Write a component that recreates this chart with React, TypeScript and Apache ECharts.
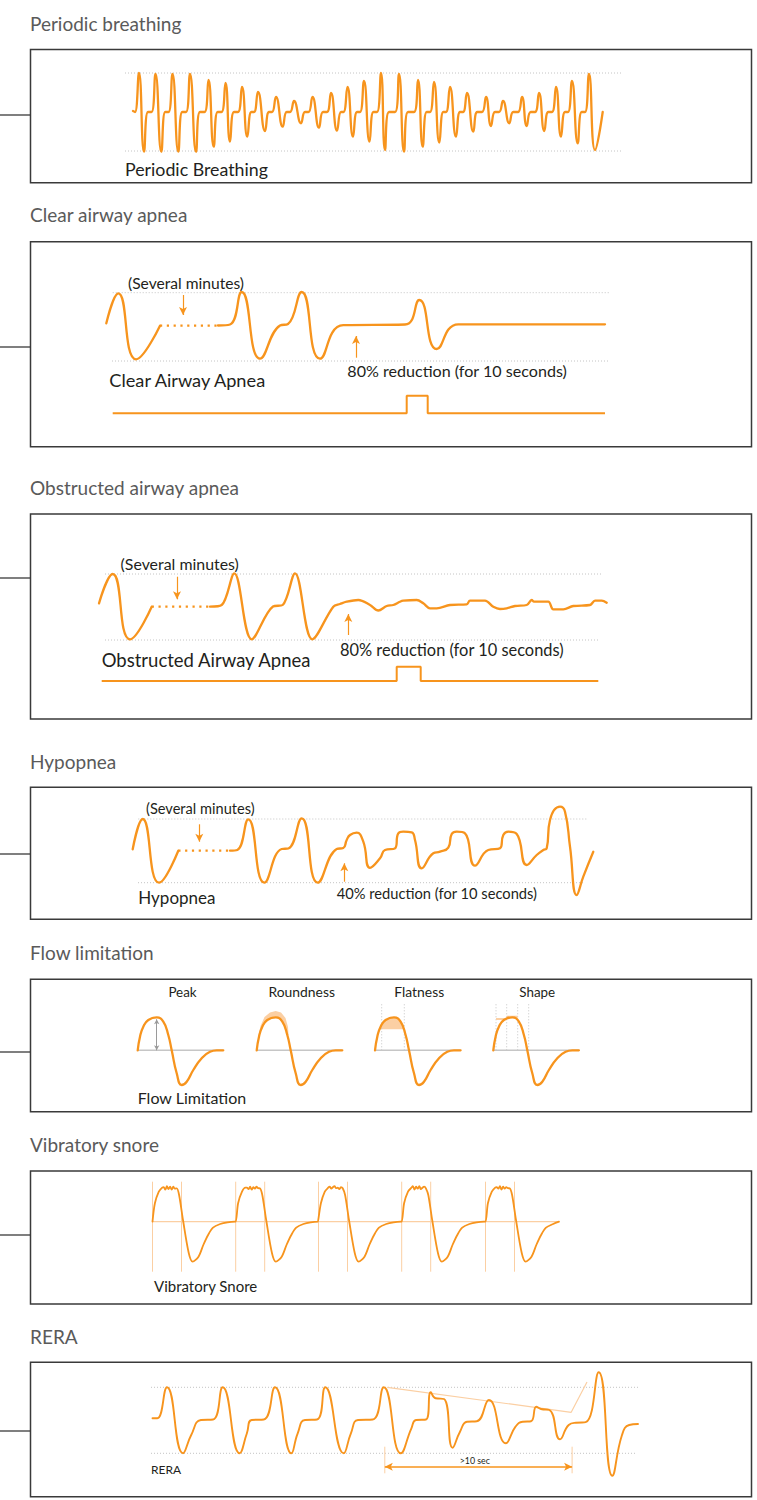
import React, { useEffect, useRef } from "react";
import * as echarts from "echarts";

const ORANGE = "#f7941d";
const LIGHT = "#fbcfa3";
const DOT = "#c4c4c4";
const BORDER = "#3a3a3a";
const TITLE = "#5a5a5a";
const INK = "#231f20";
const FONT = "Lato, 'Open Sans', 'DejaVu Sans', sans-serif";

// ================= DATA (t = time units, f = flow units) =================
// Panel 1: periodic breathing, one entry per breath
const pbStart = [10.3, 0.1];
const pbOnsetT = [10.5, 12.15, 13.85, 15.6, 17.45, 19.15, 20.8, 22.4, 24.2, 26.0, 27.85, 29.7, 31.35, 33.0, 34.7, 36.5, 38.4, 40.0, 41.6, 43.3, 45.2, 46.9, 48.8, 50.5, 52.2, 53.8, 55.5];
const pbPeakT = [10.9, 12.55, 14.25, 16.0, 17.85, 19.55, 21.2, 22.8, 24.6, 26.4, 28.25, 30.1, 31.75, 33.4, 35.1, 36.9, 38.8, 40.4, 42.0, 43.7, 45.6, 47.3, 49.2, 50.9, 52.6, 54.2, 55.9];
const pbPeakF = [3.9, 3.8, 3.8, 3.8, 3.2, 2.9, 2.5, 2.0, 1.5, 1.1, 1.5, 1.9, 2.5, 3.1, 3.9, 3.8, 3.2, 3.0, 2.5, 1.9, 1.5, 1.1, 1.5, 1.9, 2.5, 3.1, 3.8];
const pbTroughT = [11.4, 13.13, 14.83, 16.6, 18.37, 20.0, 21.73, 23.5, 25.27, 27.1, 28.9, 30.7, 32.3, 33.95, 35.5, 37.4, 39.27, 40.93, 42.6, 44.33, 46.1, 47.93, 49.67, 51.43, 53.1, 54.77, 56.5];
const pbTroughF = [-3.97, -3.97, -3.97, -3.97, -3.47, -2.97, -2.47, -1.9, -1.47, -1.13, -1.57, -1.87, -2.47, -2.97, -3.8, -3.97, -3.47, -3.07, -2.47, -1.97, -1.4, -1.13, -1.4, -1.9, -2.47, -3.13, -3.8];
const pbReturnT = [11.8, 13.53, 15.23, 17.0, 18.77, 20.4, 22.13, 23.9, 25.67, 27.5, 29.3, 31.1, 32.7, 34.35, 35.9, 37.8, 39.67, 41.33, 43.0, 44.73, 46.5, 48.33, 50.07, 51.83, 53.5, 55.17, 57.27];
const pbRefLevels = [3.9, -3.9];
const pbRefSpan = [9.5, 59.2];

// Panel 2: clear airway apnea
const caSolid1 = [[7.63, 0.12], [8.83, 3.12], [10.6, -3.48], [13.0, -0.12]];
const caGap = [[13.0, -0.12], [18.8, -0.12]];
const caSolid2 = [[18.8, -0.1], [20.0, 0], [21.17, 3.25], [23.0, -3.42], [25.0, -0.1], [25.8, 0.05], [27.17, 3.25], [29.0, -3.42], [31.33, -0.07], [37.5, 0], [38.93, 2.45], [40.67, -2.45], [42.83, 0.02], [57.5, 0.02]];
const caRefTop = [[8.27, 3.18], [58.0, 3.18]];
const caRefBottom = [[8.2, -3.65], [57.8, -3.65]];
const caEvent = [[8.27, -8.88], [37.67, -8.88], [37.67, -7.12], [39.77, -7.12], [39.77, -8.88], [57.5, -8.88]];
const caArrowGap = [[15.3, 2.95], [15.3, 0.95]];
const caArrowRed = [[32.6, -3.32], [32.6, -1.15]];

// Panel 3: obstructed airway apnea
const obSolid1 = [[6.9, 0.32], [8.27, 3.25], [10.0, -3.28], [12.17, -0.02]];
const obGap = [[12.17, -0.02], [18.0, -0.02]];
const obSolid2 = [[18.0, -0.02], [19.17, 0.15], [20.43, 3.32], [22.17, -3.28], [24.3, 0], [25.27, 0.15], [26.5, 3.32], [28.23, -3.28], [30.33, -0.02], [31.0, 0.25], [31.67, 0.48], [32.83, 0.65], [34.0, 0.15], [34.83, -0.4], [35.67, 0.05], [36.33, 0.15], [37.0, 0.48], [37.33, 0.58], [38.67, 0.65], [39.33, 0.32], [40.0, -0.18], [40.67, -0.18], [42.0, 0.15], [43.67, 0.22], [44.0, 0.58], [45.5, 0.58], [46.33, -0.02], [47.0, -0.25], [47.67, -0.18], [48.5, 0.05], [49.67, 0.15], [50.17, 0.65], [50.4, 0.48], [51.83, 0.48], [52.33, -0.28], [53.33, -0.28], [54.33, 0.05], [56.0, 0.15], [56.5, 0.58], [57.17, 0.58], [57.67, 0.38]];
const obRefTop = [[7.5, 3.25], [57.17, 3.25]];
const obRefBottom = [[7.5, -3.35], [56.8, -3.35]];
const obEvent = [[7.17, -7.45], [36.67, -7.45], [36.67, -6.02], [39.07, -6.02], [39.07, -7.45], [56.83, -7.45]];
const obArrowGap = [[14.7, 2.98], [14.7, 0.72]];
const obArrowRed = [[31.83, -2.85], [31.83, -0.75]];

// Panel 4: hypopnea
const hySolid1 = [[10.27, 0.02], [11.27, 3.05], [12.9, -3.32], [14.83, -0.12]];
const hyGap = [[14.83, -0.12], [20.0, -0.12]];
const hySolid2 = [[20.0, -0.12], [20.73, -0.05], [21.83, 3.02], [23.43, -3.32], [25.17, 0.05], [25.83, 0.1], [27.17, 3.12], [28.77, -3.32], [30.67, 0.05], [31.33, 0.15], [31.67, 0.95], [32.0, 1.45], [32.67, 1.68], [33.33, 0.78], [34.0, -1.83], [35.0, -0.88], [35.5, -0.05], [36.5, 0.12], [36.83, 1.62], [37.33, 1.78], [38.17, 1.72], [38.5, 0.95], [39.17, -1.88], [40.33, -0.38], [41.0, -0.22], [41.83, 0.18], [42.17, 1.55], [42.67, 1.78], [43.5, 1.62], [44.5, -1.62], [45.83, -0.05], [47.0, 0.12], [47.33, 1.45], [47.83, 1.78], [48.67, 1.55], [49.67, -1.55], [50.67, -0.55], [51.33, -0.05], [51.67, 0.12], [52.0, 2.95], [53.0, 4.28], [53.5, 3.78], [54.0, 0.28], [54.67, -4.55], [55.33, -2.72], [56.33, -0.22]];
const hyRefTop = [[10.83, 3.05], [55.83, 3.05]];
const hyRefBottom = [[10.8, -3.32], [55.5, -3.32]];
const hyArrowGap = [[16.93, 2.52], [16.93, 0.78]];
const hyArrowRed = [[31.43, -3.22], [31.43, -1.38]];

// Panel 5: flow limitation (one breath shape, shown four times)
const flShape = [[0, 0], [0.23, 1.36], [0.56, 2.36], [1.06, 3.03], [1.9, 3.3], [2.56, 2.86], [3.06, 1.53], [3.4, 0], [3.9, -2.3], [4.4, -3.47], [4.9, -3.14], [5.56, -1.97], [6.4, -0.8], [7.23, -0.14], [7.9, 0], [8.56, 0]];
const flStarts = [10.77, 22.67, 34.5, 46.33];
const flPeakArrow = [[12.67, 0], [12.67, 3.1]];
const flRoundHalo = [[22.85, 1.43], [23.05, 2.43], [23.45, 3.33], [24.0, 3.78], [24.57, 3.93], [25.1, 3.78], [25.55, 3.23], [25.8, 2.33], [25.85, 1.53], [25.73, 1.53], [25.23, 2.86], [24.57, 3.3], [23.73, 3.03], [23.23, 2.36], [22.9, 1.36]];
const flFlatCap = [[34.98, 2.1], [35.06, 2.36], [35.56, 3.03], [36.0, 3.25], [36.4, 3.3], [36.8, 3.15], [37.06, 2.86], [37.35, 2.1]];
const flFlatMarks = [35.17, 37.43];
const flShapeMarks = [46.6, 47.67, 48.77, 49.87];
const flShapeLevels = [[46.6, 47.67, 3.13], [47.67, 48.77, 3.36]];
const flMarkTop = 4.73;

// Panel 6: vibratory snore
const snHead = [[0, 0], [0.24, 1.84], [0.63, 3.0], [0.97, 3.4]];
const snJitterT = [1.12, 1.28, 1.44, 1.6, 1.76, 1.92, 2.08, 2.24];
const snJitterF = [
  [3.45, 3.2, 3.55, 3.25, 3.5, 3.2, 3.5, 3.3],
  [3.4, 3.25, 3.5, 3.2, 3.45, 3.3, 3.5, 3.35],
  [3.5, 3.3, 3.45, 3.55, 3.35, 3.4, 3.25, 3.45],
  [3.55, 3.2, 3.5, 3.3, 3.55, 3.25, 3.4, 3.5],
  [3.45, 3.3, 3.55, 3.2, 3.5, 3.3, 3.45, 3.35],
];
const snTail = [[2.42, 3.34], [2.66, 2.67], [3.05, 0.17], [3.63, -3.16], [4.01, -4.0], [4.6, -3.5], [5.08, -2.33], [5.56, -1.33], [6.05, -0.6], [6.77, -0.23], [7.5, -0.06], [8.23, 0]];
const snStarts = [12.25, 20.57, 28.85, 37.17, 45.55];
const snEnd = 52.9;
const snFallLag = 2.9;
const snMarkRange = [4.0, -5.0];

// Panel 7: RERA
const reWave = [[12.25, 0.17], [12.73, 0.17], [13.7, 3.27], [15.3, -3.33], [16.12, -1.5], [17.09, 0], [18.3, 0.05], [19.27, 3.27], [20.96, -3.33], [21.69, -1.33], [22.17, 0], [23.38, 0.05], [24.5, 3.27], [26.14, -3.33], [26.77, -1.33], [27.5, 0], [28.7, 0.05], [29.53, 3.27], [31.37, -3.33], [32.09, -1.33], [32.8, 0], [34.27, 0.05], [35.38, 3.27], [37.08, -3.33], [38.14, -0.83], [38.6, 0], [39.6, 0.05], [40.08, 2.77], [40.56, 2.17], [41.4, 2.1], [42.26, -2.77], [43.0, -1.17], [43.7, -0.17], [44.68, -0.12], [45.89, 2.0], [47.58, -2.33], [48.55, -0.67], [49.27, -0.17], [50.1, -0.12], [50.63, 1.33], [51.1, 1.1], [51.94, 1.0], [53.0, -1.93], [53.87, -0.5], [54.6, -0.27], [55.57, -0.22], [56.87, 4.77], [58.23, -5.57], [59.2, -1.5], [59.92, -0.5], [60.8, -0.4]];
const reRefTop = [[12.1, 3.27], [61.0, 3.27]];
const reRefBottom = [[12.1, -3.33], [60.65, -3.33]];
const reTrend = [[35.72, 3.27], [54.12, 0.77], [55.7, 3.8]];
const reSpanT = [35.48, 54.21];
const reSpanF = [-2.67, -5.33];
const reSpanArrowF = -4.67;

// ================= LAYOUT (px) =================
const FRAMES = [
  { top: 49.5, bottom: 182.7, base: 112, stub: 115, title: "Periodic breathing", titleBase: 30 },
  { top: 241.7, bottom: 446.7, base: 324.5, stub: 347, title: "Clear airway apnea", titleBase: 221 },
  { top: 514, bottom: 719, base: 606.5, stub: 578, title: "Obstructed airway apnea", titleBase: 494 },
  { top: 787.3, bottom: 919.3, base: 849.5, stub: 854, title: "Hypopnea", titleBase: 768 },
  { top: 979.3, bottom: 1111.7, base: 1050.3, stub: 1052, title: "Flow limitation", titleBase: 959 },
  { top: 1171, bottom: 1304, base: 1221.7, stub: 1235, title: "Vibratory snore", titleBase: 1151 },
  { top: 1362.3, bottom: 1496.7, base: 1420, stub: 1431, title: "RERA", titleBase: 1343 },
];
const BOX_L = 30.5;
const BOX_R = 751.5;
const SCALE_X = 10;
const SCALE_Y = 10;
const TITLE_SIZE = 19;

const LABELS: [string, number, number, number, string][] = [
  ["Periodic Breathing", 125, 175, 17.8, "left"],
  ["(Several minutes)", 186, 288.3, 15.6, "center"],
  ["Clear Airway Apnea", 109.3, 386.7, 18.2, "left"],
  ["80% reduction (for 10 seconds)", 347.3, 376, 16.1, "left"],
  ["(Several minutes)", 179.7, 569.3, 15.9, "center"],
  ["Obstructed Airway Apnea", 101.7, 666.7, 18.5, "left"],
  ["80% reduction (for 10 seconds)", 340, 655.7, 16.4, "left"],
  ["(Several minutes)", 200.3, 813.3, 14.6, "center"],
  ["Hypopnea", 138.3, 904, 17, "left"],
  ["40% reduction (for 10 seconds)", 336.7, 898.3, 14.7, "left"],
  ["Peak", 182.5, 996.7, 13.4, "center"],
  ["Roundness", 301.7, 996.7, 13.9, "center"],
  ["Flatness", 419.2, 996.7, 13.9, "center"],
  ["Shape", 537.2, 996.7, 13.4, "center"],
  ["Flow Limitation", 137.7, 1103.3, 16, "left"],
  ["Vibratory Snore", 154, 1291.7, 15, "left"],
  [">10 sec", 474.8, 1463.3, 8.8, "center"],
  ["RERA", 151, 1474, 12, "left"],
];

function text(str: string, x: number, baseline: number, size: number, color: string, align: string) {
  return {
    type: "text",
    x,
    y: baseline - size * 0.36,
    silent: true,
    style: {
      text: str,
      fill: color,
      fontSize: size,
      fontFamily: FONT,
      textAlign: align,
      align,
      textVerticalAlign: "middle",
      verticalAlign: "middle",
    },
  };
}

function wave(gi: number, data: number[][], opts: any = {}) {
  return {
    type: "line",
    xAxisIndex: gi,
    yAxisIndex: gi,
    data,
    symbol: "none",
    showSymbol: false,
    silent: true,
    smooth: opts.smooth ?? 0.5,
    clip: false,
    z: 3,
    lineStyle: { color: ORANGE, width: opts.width ?? 2.3, type: opts.type ?? "solid", cap: opts.cap ?? "round", join: "round" },
  };
}

function seg(gi: number, data: number[][], color: string, width: number, type: any = "solid", z = 1, markLine?: any) {
  const s: any = {
    type: "line",
    xAxisIndex: gi,
    yAxisIndex: gi,
    data,
    symbol: "none",
    showSymbol: false,
    silent: true,
    smooth: false,
    clip: false,
    z,
    lineStyle: { color, width, type },
  };
  if (markLine) s.markLine = markLine;
  return s;
}

function arrows(pairs: number[][][], color: string, width: number, symbols: string[], size: number | number[]) {
  return {
    silent: true,
    symbol: symbols,
    symbolSize: size,
    label: { show: false },
    emphasis: { disabled: true },
    lineStyle: { color, width, type: "solid" },
    data: pairs.map(([a, b]) => [{ coord: a }, { coord: b }]),
  };
}

function polygon(gi: number, pts: number[][], color: string) {
  return {
    type: "custom",
    xAxisIndex: gi,
    yAxisIndex: gi,
    silent: true,
    z: 1,
    clip: false,
    data: [[pts[0][0], pts[0][1]]],
    renderItem: (_p: any, api: any) => ({
      type: "polygon",
      shape: { points: pts.map((p) => api.coord(p)) },
      style: { fill: color },
    }),
  };
}

function buildOption() {
  const grids: any[] = [];
  const xAxes: any[] = [];
  const yAxes: any[] = [];
  FRAMES.forEach((f, i) => {
    grids.push({ left: 30, width: 722, top: f.top, height: f.bottom - f.top });
    xAxes.push({ gridIndex: i, type: "value", min: 0, max: 722 / SCALE_X, show: false });
    yAxes.push({ gridIndex: i, type: "value", min: (f.base - f.bottom) / SCALE_Y, max: (f.base - f.top) / SCALE_Y, show: false });
  });

  const series: any[] = [];
  const gapDash = [2.2, 4.6];

  // ---- Panel 1
  const pb: number[][] = [pbStart];
  pbPeakT.forEach((_, i) => {
    pb.push([pbOnsetT[i], 0], [pbPeakT[i], pbPeakF[i]], [pbTroughT[i], pbTroughF[i]], [pbReturnT[i], 0]);
  });
  pbRefLevels.forEach((lv) => series.push(seg(0, [[pbRefSpan[0], lv], [pbRefSpan[1], lv]], DOT, 1, [1, 2])));
  series.push(wave(0, pb, { width: 2.3 }));

  // ---- Panel 2
  series.push(seg(1, caRefTop, DOT, 1, [1, 2]));
  series.push(seg(1, caRefBottom, DOT, 1, [1, 2], 1, arrows([caArrowGap, caArrowRed], ORANGE, 1.2, ["none", "arrow"], [6, 8])));
  series.push(wave(1, caSolid1));
  series.push(wave(1, caGap, { smooth: 0, type: gapDash, cap: "butt" }));
  series.push(wave(1, caSolid2));
  series.push(seg(1, caEvent, ORANGE, 2, "solid", 3));

  // ---- Panel 3
  series.push(seg(2, obRefTop, DOT, 1, [1, 2]));
  series.push(seg(2, obRefBottom, DOT, 1, [1, 2], 1, arrows([obArrowGap, obArrowRed], ORANGE, 1.2, ["none", "arrow"], [6, 8])));
  series.push(wave(2, obSolid1));
  series.push(wave(2, obGap, { smooth: 0, type: gapDash, cap: "butt" }));
  series.push(wave(2, obSolid2, { smooth: 0.35 }));
  series.push(seg(2, obEvent, ORANGE, 2, "solid", 3));

  // ---- Panel 4
  series.push(seg(3, hyRefTop, DOT, 1, [1, 2]));
  series.push(seg(3, hyRefBottom, DOT, 1, [1, 2], 1, arrows([hyArrowGap, hyArrowRed], ORANGE, 1.2, ["none", "arrow"], [6, 8])));
  series.push(wave(3, hySolid1));
  series.push(wave(3, hyGap, { smooth: 0, type: gapDash, cap: "butt" }));
  series.push(wave(3, hySolid2));

  // ---- Panel 5
  series.push(polygon(4, flRoundHalo, LIGHT));
  series.push(polygon(4, flFlatCap, LIGHT));
  flStarts.forEach((s, i) => {
    const w = flShape.map(([dt, f]) => [s + dt, f]);
    const last = flShape[flShape.length - 1][0];
    series.push(seg(4, [[s, 0], [s + last, 0]], "#c6c6c6", 1.5, "solid", 2, i === 0 ? arrows([flPeakArrow], "#9a9a9a", 1, ["arrow", "arrow"], [4, 5]) : undefined));
    series.push(wave(4, w));
  });
  [...flFlatMarks, ...flShapeMarks].forEach((t) => series.push(seg(4, [[t, 0], [t, flMarkTop]], DOT, 1, [1, 2])));
  flShapeLevels.forEach(([a, b, lv]) => series.push(seg(4, [[a, lv], [b, lv]], LIGHT, 2, "solid", 2)));

  // ---- Panel 6
  series.push(seg(5, [[snStarts[0], 0], [snEnd, 0]], LIGHT, 1.2));
  snStarts.forEach((s) => {
    series.push(seg(5, [[s, snMarkRange[0]], [s, snMarkRange[1]]], LIGHT, 1));
    series.push(seg(5, [[s + snFallLag, snMarkRange[0]], [s + snFallLag, snMarkRange[1]]], LIGHT, 1));
  });
  const sn: number[][] = [];
  snStarts.forEach((s, i) => {
    const cyc: number[][] = [
      ...snHead,
      ...snJitterT.map((t, k) => [t, snJitterF[i][k]]),
      ...snTail,
    ].map(([t, f]) => [s + t, f]);
    cyc.forEach((p) => {
      if (p[0] <= snEnd) sn.push(p);
    });
  });
  sn.push([snEnd, 0]);
  series.push(wave(5, sn, { width: 1.8, smooth: 0.3 }));

  // ---- Panel 7
  series.push(seg(6, reRefTop, DOT, 1, [1, 2]));
  series.push(seg(6, reRefBottom, DOT, 1, [1, 2]));
  series.push(seg(6, reTrend, LIGHT, 1.2, "solid", 2));
  reSpanT.forEach((t) => series.push(seg(6, [[t, reSpanF[0]], [t, reSpanF[1]]], LIGHT, 1)));
  series.push(seg(6, [[reSpanT[0], reSpanArrowF], [reSpanT[1], reSpanArrowF]], "rgba(0,0,0,0)", 0, "solid", 2,
    arrows([[[reSpanT[0], reSpanArrowF], [reSpanT[1], reSpanArrowF]]], ORANGE, 1.5, ["arrow", "arrow"], [6, 8])));
  series.push(wave(6, reWave, { width: 1.9 }));

  // ---- graphics: frames, stubs, titles, labels
  const graphic: any[] = [];
  FRAMES.forEach((f) => {
    graphic.push({
      type: "rect",
      silent: true,
      shape: { x: BOX_L, y: f.top, width: BOX_R - BOX_L, height: f.bottom - f.top },
      style: { fill: "none", stroke: BORDER, lineWidth: 1.5 },
    });
    graphic.push({
      type: "line",
      silent: true,
      shape: { x1: 0, y1: f.stub, x2: BOX_L, y2: f.stub },
      style: { stroke: BORDER, lineWidth: 1.3 },
    });
    graphic.push(text(f.title, 30, f.titleBase, TITLE_SIZE, TITLE, "left"));
  });
  LABELS.forEach(([s, x, b, size, align]) => graphic.push(text(s, x, b, size, INK, align)));

  return {
    animation: false,
    backgroundColor: "#ffffff",
    grid: grids,
    xAxis: xAxes,
    yAxis: yAxes,
    series,
    graphic,
  };
}

export default function App() {
  const ref = useRef<HTMLDivElement>(null);
  useEffect(() => {
    if (!ref.current) return;
    const chart = echarts.init(ref.current, undefined, { renderer: "svg" });
    chart.setOption(buildOption() as any);
    return () => chart.dispose();
  }, []);
  return (
    <div
      ref={ref}
      style={{ position: "absolute", left: 0, top: 0, width: 757, height: 1500, background: "#fff" }}
    />
  );
}
